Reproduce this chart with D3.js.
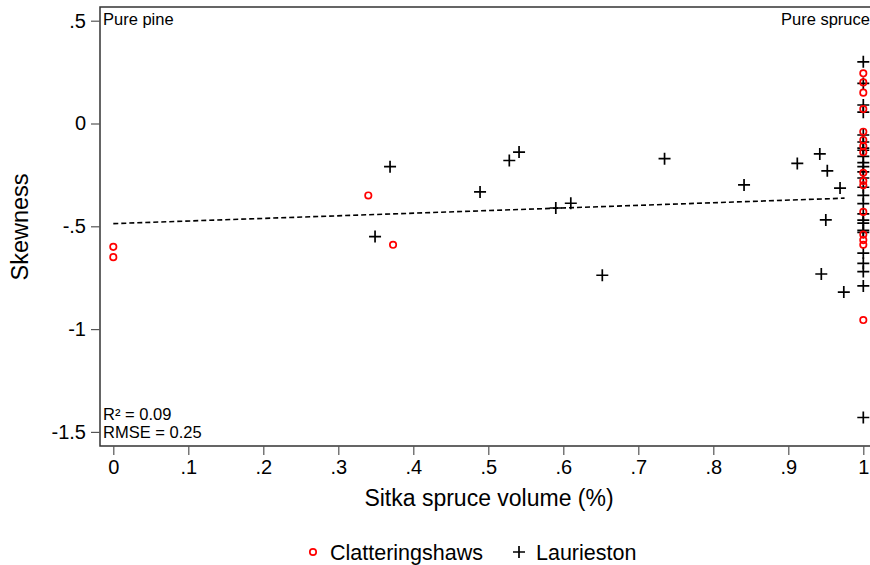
<!DOCTYPE html>
<html lang="en">
    <head>
        <meta charset="utf-8">
        <title>Skewness</title>
        <script src="https://d3js.org/d3.v7.min.js"></script>
        <style type="text/css">
            body { margin: 0; background: #fff; }
            text { font-family: "Liberation Sans", Arial, sans-serif; fill: #000; }
            .axis line { stroke: #555; stroke-width: 1.2px; }
            .axis path { display: none; }
            .axis text { font-size: 20px; font-family: "Liberation Sans", Arial, sans-serif; }
            .frame { stroke: #333; stroke-width: 1.5px; fill: none; }
            .fit { fill: none; stroke: #000; stroke-width: 1.6px; stroke-dasharray: 5 3; }
            .clat { fill: none; stroke: #f00; stroke-width: 1.7px; }
            .laur { stroke: #000; stroke-width: 1.7px; }
            .note { font-size: 16.5px; }
        </style>
    </head>
    <body>
        <script type="text/javascript">

            const w = 870;
            const h = 565;

            // Clatteringshaws (red circles)
            const clatX = [0, 0, 0.34, 0.373,
                1, 1, 1, 1, 1, 1, 1, 1, 1, 1, 1, 1, 1, 1, 1, 1];
            const clatY = [-0.60, -0.65, -0.35, -0.59,
                0.244, 0.20, 0.15, 0.07, -0.04, -0.08, -0.11, -0.14, -0.24, -0.28, -0.30, -0.43, -0.54, -0.567, -0.59, -0.956];

            // Laurieston (black plus)
            const laurX = [0.349, 0.369, 0.489, 0.528, 0.541, 0.590, 0.610, 0.652, 0.735, 0.841, 0.912, 0.942, 0.952, 0.969, 0.950, 0.944, 0.974,
                1, 1, 1, 1, 1, 1, 1, 1, 1, 1, 1, 1, 1, 1, 1, 1, 1, 1, 1, 1, 1, 1, 1, 1, 1, 1];
            const laurY = [-0.55, -0.21, -0.333, -0.18, -0.139, -0.411, -0.388, -0.738, -0.171, -0.299, -0.194, -0.148, -0.23, -0.314, -0.469, -0.732, -0.82,
                0.30, 0.195, 0.09, 0.055, -0.056, -0.09, -0.12, -0.13, -0.16, -0.19, -0.21, -0.235, -0.265, -0.31, -0.35, -0.39, -0.44, -0.47, -0.485, -0.52, -0.53, -0.63, -0.68, -0.72, -0.79, -1.43];

            // linear fit
            const fitX = [0, 0.975];
            const fitIntercept = -0.487;
            const fitSlope = 0.127;

            const xTicks = [0, 0.1, 0.2, 0.3, 0.4, 0.5, 0.6, 0.7, 0.8, 0.9, 1];
            const xTickLabels = ["0", ".1", ".2", ".3", ".4", ".5", ".6", ".7", ".8", ".9", "1"];
            const yTicks = [0.5, 0, -0.5, -1, -1.5];
            const yTickLabels = [".5", "0", "-.5", "-1", "-1.5"];

            const seriesNames = ["Clatteringshaws", "Laurieston"];

            const plotLeft = 100, plotTop = 7, plotBottom = 446;

            const xScale = d3.scaleLinear().domain([0, 1]).range([113.3, 863.3]);
            const yScale = d3.scaleLinear().domain([-1.5, 0.5]).range([431.9, 20.7]);

            const svg = d3.select("body").append("svg").attr("width", w).attr("height", h);

            // frame (right side runs off the picture)
            svg.append("path")
                .attr("class", "frame")
                .attr("d", `M${w + 10},${plotTop} H${plotLeft} V${plotBottom} H${w + 10}`);

            const bottomAxis = d3.axisBottom(xScale)
                .tickValues(xTicks)
                .tickSize(9)
                .tickPadding(5)
                .tickFormat((d, i) => xTickLabels[i]);
            svg.append("g")
                .attr("class", "axis")
                .attr("transform", "translate(0," + plotBottom + ")")
                .call(bottomAxis);

            const leftAxis = d3.axisLeft(yScale)
                .tickValues(yTicks)
                .tickSize(9)
                .tickPadding(5)
                .tickFormat((d, i) => yTickLabels[i]);
            svg.append("g")
                .attr("class", "axis")
                .attr("transform", "translate(" + plotLeft + ",0)")
                .call(leftAxis);

            // axis titles
            svg.append("text")
                .attr("x", 489)
                .attr("y", 506)
                .attr("text-anchor", "middle")
                .style("font-size", "23px")
                .text("Sitka spruce volume (%)");

            svg.append("text")
                .attr("transform", "translate(28,227) rotate(-90)")
                .attr("text-anchor", "middle")
                .style("font-size", "23.5px")
                .text("Skewness");

            // fit line
            const fitLine = d3.line()
                .x(d => xScale(d))
                .y(d => yScale(fitIntercept + fitSlope * d));
            svg.append("path")
                .attr("class", "fit")
                .attr("d", fitLine(fitX));

            // Laurieston pluses
            const plusPath = "M-6,0H6M0,-6V6";
            svg.append("g").selectAll("path")
                .data(laurX.map((x, i) => [x, laurY[i]]))
                .enter().append("path")
                .attr("class", "laur")
                .attr("d", plusPath)
                .attr("transform", d => `translate(${xScale(d[0])},${yScale(d[1])})`);

            // Clatteringshaws circles
            svg.append("g").selectAll("circle")
                .data(clatX.map((x, i) => [x, clatY[i]]))
                .enter().append("circle")
                .attr("class", "clat")
                .attr("r", 3.2)
                .attr("cx", d => xScale(d[0]))
                .attr("cy", d => yScale(d[1]));

            // corner notes
            svg.append("text").attr("class", "note").attr("x", 103).attr("y", 25).text("Pure pine");
            svg.append("text").attr("class", "note").attr("x", 781).attr("y", 25).text("Pure spruce");
            svg.append("text").attr("class", "note").attr("x", 103).attr("y", 420).text("R² = 0.09");
            svg.append("text").attr("class", "note").attr("x", 103).attr("y", 438).text("RMSE = 0.25");

            // legend
            const legend = svg.append("g").attr("transform", "translate(0,552)");
            legend.append("circle")
                .attr("class", "clat")
                .attr("cx", 313)
                .attr("cy", 0)
                .attr("r", 3.2);
            legend.append("text")
                .attr("x", 330)
                .attr("y", 7.5)
                .style("font-size", "21.5px")
                .text(seriesNames[0]);
            legend.append("path")
                .attr("class", "laur")
                .attr("d", plusPath)
                .attr("transform", "translate(519,0)");
            legend.append("text")
                .attr("x", 536)
                .attr("y", 7.5)
                .style("font-size", "21.5px")
                .text(seriesNames[1]);
        </script>
    </body>
</html>
